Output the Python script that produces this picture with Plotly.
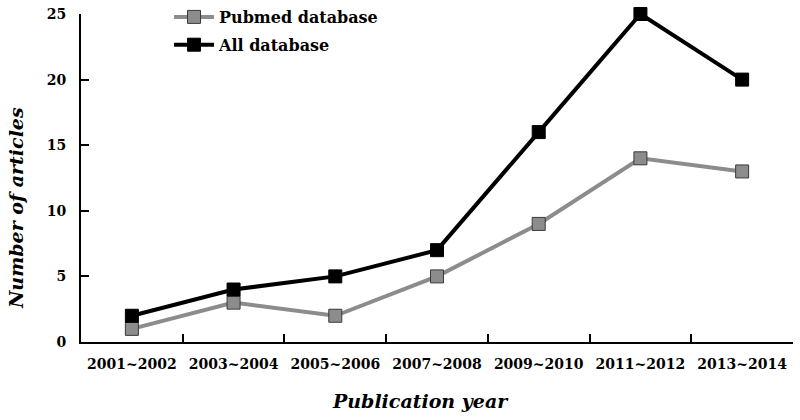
import plotly.graph_objects as go

# Data
periods = ["2001~2002", "2003~2004", "2005~2006", "2007~2008",
           "2009~2010", "2011~2012", "2013~2014"]
pubmed = [1, 3, 2, 5, 9, 14, 13]
all_db = [2, 4, 5, 7, 16, 25, 20]

FONT = "DejaVu Serif"
W, H = 800, 420

fig = go.Figure()

fig.add_trace(go.Scatter(
    x=periods, y=pubmed, name="<b>Pubmed database</b>",
    mode="lines+markers", legendgroup="a",
    line=dict(color="#8c8c8c", width=4),
    marker=dict(symbol="square", size=13, color="#8c8c8c",
                line=dict(color="#3a3a3a", width=1)),
    cliponaxis=False,
))
fig.add_trace(go.Scatter(
    x=periods, y=all_db, name="<b>All database</b>",
    mode="lines+markers", legendgroup="b",
    line=dict(color="#000000", width=4),
    marker=dict(symbol="square", size=13, color="#000000",
                line=dict(color="#000000", width=1)),
    cliponaxis=False,
))

fig.update_xaxes(
    type="category",
    range=[-0.5, len(periods) - 0.5],
    tickson="boundaries",
    ticks="inside", ticklen=8, tickwidth=2, tickcolor="black",
    showline=True, linecolor="black", linewidth=2,
    showgrid=False, zeroline=False, automargin=False,
    tickfont=dict(family=FONT, size=14, color="black", weight="bold"),
    ticklabelstandoff=8,
)
# plot top sits 14px below the page top, legend lives in the space above
fig.update_yaxes(
    range=[0, 25], dtick=5,
    domain=[0, (342 - 14) / 342],
    ticks="inside", ticklen=8, tickwidth=2, tickcolor="black",
    showline=True, linecolor="black", linewidth=2,
    showgrid=False, zeroline=False, automargin=False,
    tickfont=dict(family=FONT, size=14, color="black", weight="bold"),
    ticklabelstandoff=10,
)

fig.add_annotation(
    text="<b><i>Publication year</i></b>", xref="paper", yref="paper",
    x=(420 - 81) / 712, y=-(401 - 342) / 342, xanchor="center", yanchor="middle",
    showarrow=False, font=dict(family=FONT, size=19, color="black"),
)
fig.add_annotation(
    text="<b><i>Number of articles</i></b>", xref="paper", yref="paper",
    x=-(81 - 16) / 712, y=(342 - 208) / 342, xanchor="center", yanchor="middle",
    textangle=-90, showarrow=False,
    font=dict(family=FONT, size=19, color="black"),
)

fig.update_layout(
    width=W, height=H,
    margin=dict(l=81, r=7, t=0, b=78),
    plot_bgcolor="white", paper_bgcolor="white",
    showlegend=True,
    legend=dict(x=(169 - 81) / 712, y=1, xanchor="left", yanchor="top",
                bgcolor="rgba(0,0,0,0)", traceorder="grouped",
                font=dict(family=FONT, size=16, color="black"),
                tracegroupgap=4, itemwidth=40),
)

# drop the default body margin so the figure sits at the window corner
fig.write_html("out.html", config={"displayModeBar": False},
               post_script="document.body.style.margin='0px';")
